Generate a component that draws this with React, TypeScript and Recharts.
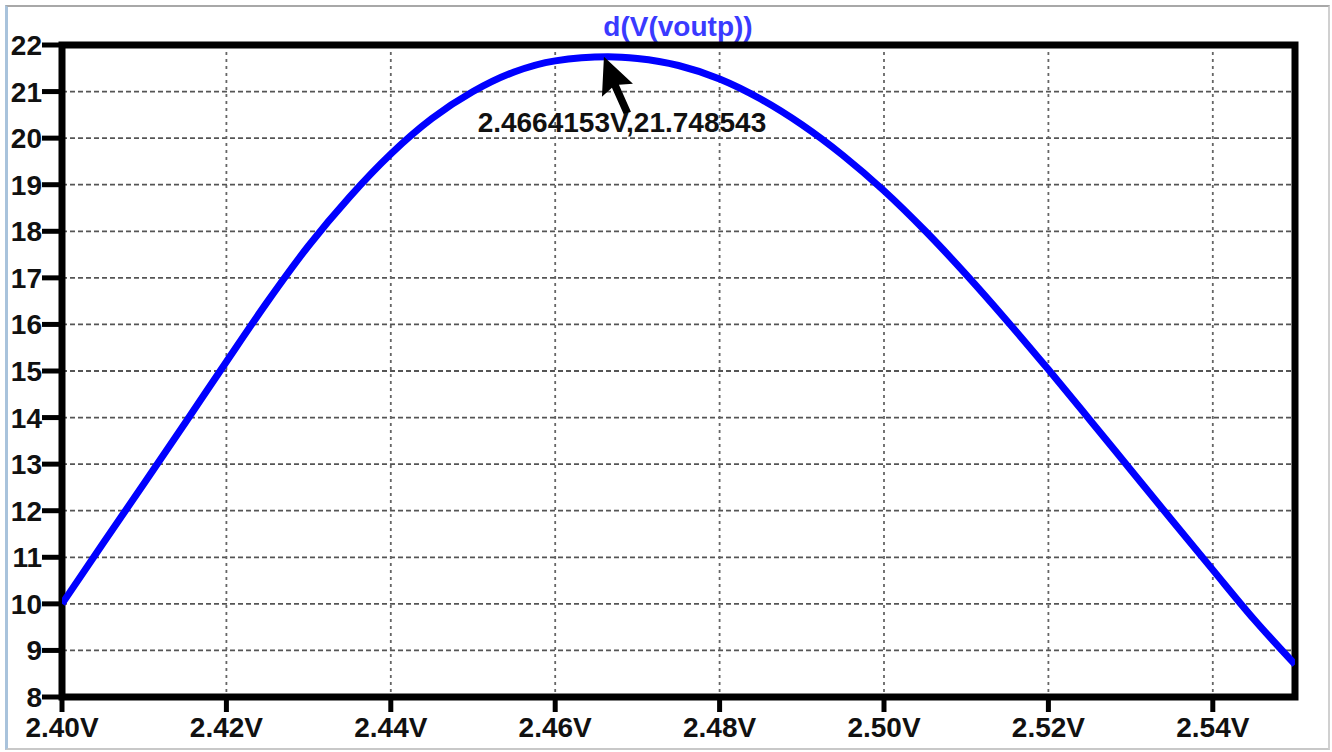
import React from "react";
import {
  LineChart,
  Line,
  XAxis,
  YAxis,
  CartesianGrid,
  ReferenceArea,
  ReferenceDot,
} from "recharts";

// sweep voltage (V) and derivative d(V(voutp))
const sweep = [
  2.4, 2.405, 2.41, 2.415, 2.42, 2.425, 2.43, 2.435, 2.44, 2.445, 2.45, 2.455,
  2.46, 2.4664153, 2.47, 2.475, 2.48, 2.485, 2.49, 2.495, 2.5, 2.505, 2.51,
  2.515, 2.52, 2.525, 2.53, 2.535, 2.54, 2.545, 2.55,
];
const dvout = [
  10.0, 11.3, 12.59, 13.89, 15.2, 16.49, 17.69, 18.74, 19.66, 20.42, 21.0,
  21.42, 21.66, 21.748543, 21.71, 21.56, 21.27, 20.84, 20.29, 19.63, 18.87,
  18.01, 17.07, 16.07, 15.03, 13.96, 12.88, 11.8, 10.73, 9.67, 8.7,
];
const xTicks = [2.4, 2.42, 2.44, 2.46, 2.48, 2.5, 2.52, 2.54];
const yTicks = [8, 9, 10, 11, 12, 13, 14, 15, 16, 17, 18, 19, 20, 21, 22];
const cursor = { x: 2.4664153, y: 21.748543, label: "2.4664153V,21.748543" };
const title = "d(V(voutp))";

const data = sweep.map((v, i) => ({ v, d: dvout[i] }));

const font = '"Liberation Sans", Arial, sans-serif';

function CursorMark(props: any) {
  const { cx, cy } = props;
  return (
    <g>
      <path
        d={`M ${cx - 4} ${cy} L ${cx - 6} ${cy + 40} L ${cx + 4} ${cy + 31} L ${cx + 16} ${cy + 58} L ${cx + 23} ${cy + 55} L ${cx + 11} ${cy + 28} L ${cx + 25} ${cy + 27} Z`}
        fill="#000"
      />
      <text
        x={cx + 14}
        y={cy + 66}
        textAnchor="middle"
        dominantBaseline="central"
        fontSize={28}
        fontWeight="bold"
        fontFamily={font}
        fill="#111"
      >
        {cursor.label}
      </text>
    </g>
  );
}

export default function App() {
  return (
    <div
      style={{
        position: "fixed",
        left: 0,
        top: 0,
        width: 1332,
        height: 752,
        background: "#fff",
        fontFamily: font,
      }}
    >
      <div
        style={{
          position: "absolute",
          left: 5,
          top: 5,
          width: 1320,
          height: 741,
          borderTop: "2px solid #a8a8a8",
          borderRight: "2px solid #d0d0d0",
          borderBottom: "2px solid #c8c8c8",
          borderLeft: "3px solid #a9c3dc",
        }}
      />
      <div
        style={{
          position: "absolute",
          left: 578,
          top: 10,
          width: 200,
          textAlign: "center",
          color: "#3a3aff",
          fontSize: 28,
          fontWeight: "bold",
          lineHeight: "34px",
        }}
      >
        {title}
      </div>
      <div style={{ position: "absolute", left: 0, top: 0 }}>
        <LineChart
          width={1332}
          height={752}
          data={data}
          margin={{ top: 45, right: 37, bottom: 0, left: 0 }}
        >
          <CartesianGrid
            vertical={false}
            stroke="#555"
            strokeWidth={1.8}
            strokeDasharray="5 3"
          />
          <CartesianGrid
            horizontal={false}
            stroke="#666"
            strokeWidth={1.8}
            strokeDasharray="3 4"
          />
          <XAxis
            type="number"
            dataKey="v"
            domain={[2.4, 2.55]}
            ticks={xTicks}
            allowDataOverflow
            height={55}
            tickSize={15}
            tickMargin={5}
            axisLine={false}
            tickLine={{ stroke: "#000", strokeWidth: 5 }}
            tickFormatter={(v: number) => v.toFixed(2) + "V"}
            tick={{ fill: "#111", fontSize: 28, fontWeight: "bold", fontFamily: font }}
          />
          <YAxis
            type="number"
            domain={[8, 22]}
            ticks={yTicks}
            allowDataOverflow
            width={62}
            tickSize={20}
            tickMargin={0}
            axisLine={false}
            tickLine={{ stroke: "#000", strokeWidth: 5 }}
            tick={{ fill: "#111", fontSize: 28, fontWeight: "bold", fontFamily: font }}
          />
          <Line
            type="monotone"
            dataKey="d"
            stroke="#0000ff"
            strokeWidth={7}
            dot={false}
            isAnimationActive={false}
          />
          <ReferenceArea
            x1={2.4}
            x2={2.55}
            y1={8}
            y2={22}
            fill="none"
            stroke="#000"
            strokeWidth={7}
            ifOverflow="visible"
          />
          <ReferenceDot
            x={cursor.x}
            y={cursor.y}
            r={0}
            ifOverflow="visible"
            shape={CursorMark}
          />
        </LineChart>
      </div>
    </div>
  );
}
